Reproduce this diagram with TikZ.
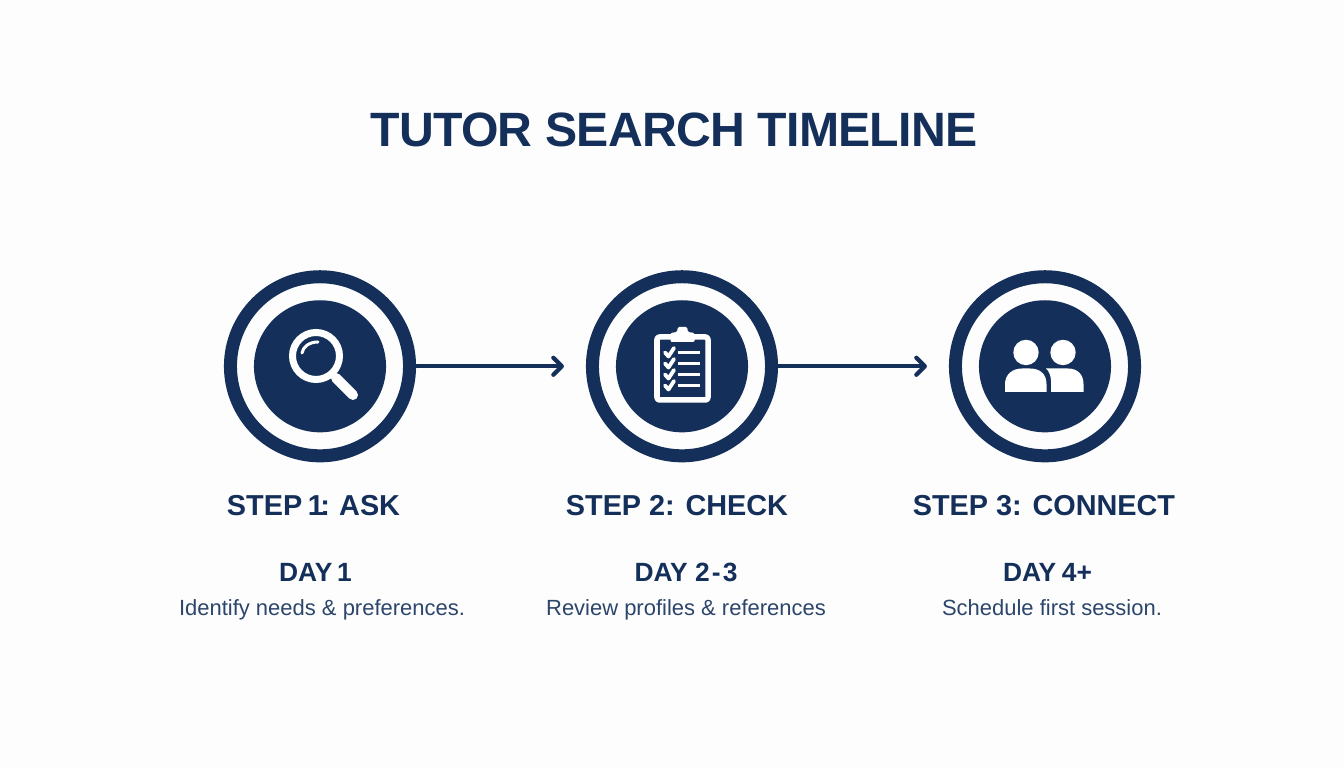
\documentclass[tikz,border=0pt]{standalone}
\usepackage{fontspec}
\setmainfont{Liberation Sans}
\usetikzlibrary{arrows.meta}
\definecolor{navy}{HTML}{14305A}
\definecolor{paper}{HTML}{FDFDFD}
\tikzset{
	ring/.style={circle,draw=navy,line width=.13cm,fill=paper,minimum size=1.79cm,inner sep=0pt},
	disc/.style={circle,fill=navy,minimum size=1.32cm,inner sep=0pt},
	link/.style={draw=navy,line width=.042cm,line cap=round,-{Straight Barb[length=.085cm,width=.17cm,line cap=round,round]},shorten >=.22cm},
	icon/.style={draw=white,line cap=round,line join=round},
	titletext/.style={anchor=base,text=navy,font=\bfseries\fontsize{13.7}{18}\selectfont\addfontfeature{LetterSpace=-1.5}},
	steptext/.style={anchor=base,text=navy,font=\bfseries\fontsize{8.2}{10}\selectfont},
	daytext/.style={anchor=base,text=navy,font=\bfseries\fontsize{7.5}{10}\selectfont},
	notetext/.style={anchor=base,text=navy!90!white,font=\fontsize{6.25}{8}\selectfont}
}
\begin{document}
\begin{tikzpicture}[x=.01cm,y=-.01cm]
	\fill[paper] (0,0) rectangle (1344,768);
	\node[titletext] (title) at (674,146.5) {TUTOR SEARCH TIMELINE};

	\node[ring] (ringA) at (320,366.3) {};
	\node[ring] (ringB) at (682,366.3) {};
	\node[ring] (ringC) at (1045,366.3) {};
	\node[disc] (discA) at (ringA) {};
	\node[disc] (discB) at (ringB) {};
	\node[disc] (discC) at (ringC) {};

	\draw[link] (ringA.east) -- (ringB.west);
	\draw[link] (ringB.east) -- (ringC.west);

	% magnifier
	\draw[icon,line width=.07cm] (316,356) circle (23.5);
	\draw[icon,line width=.1cm] (336,378) -- (353,395);
	\draw[icon,line width=.03cm] (302,353) .. controls (303,347) and (309,342) .. (318,342);

	% clipboard
	\draw[icon,line width=.055cm,rounded corners=.025cm] (672,337) -- (657,337) -- (657,400) -- (708,400) -- (708,337) -- (693,337);
	\fill[white,rounded corners=.012cm] (670.5,342) -- (670.5,333) -- (677,332) -- (678,327) -- (687,327) -- (688,332) -- (694.5,333) -- (694.5,342) -- cycle;
	\foreach \y in {352.5,363.5,374.5,385.5} {
		\draw[icon,line width=.038cm] (665,\y) -- (668.5,\y+4) -- (674,\y-4.5);
		\draw[draw=white,line width=.036cm] (677.5,\y) -- (700,\y);
	}

	% people
	\fill[white] (1026,352.5) circle (12.7);
	\fill[white] (1063,352.5) circle (12.7);
	\fill[white] (1005,392) -- (1005,384) .. controls (1005,374) and (1013,368.5) .. (1022,368.5) -- (1030,368.5) .. controls (1040,368.5) and (1046.5,374) .. (1046.5,384) -- (1046.5,392) -- cycle;
	\fill[white] (1051,392) -- (1051,381) .. controls (1051,376) and (1049,371) .. (1046,368.5) -- (1068,368.5) .. controls (1077,368.5) and (1083.5,374) .. (1083.5,384) -- (1083.5,392) -- cycle;

	\node[steptext] (stepA) at (313.5,515.7) {STEP\kern-.7pt\ 1\kern-1pt: \kern-.4pt ASK};
	\node[steptext] (stepB) at (677,515.7) {STEP 2: CHECK};
	\node[steptext] (stepC) at (1044,515.7) {STEP 3: CONNECT};

	\node[daytext] (dayA) at (315.5,581.7) {DAY\kern-.7pt\ 1};
	\node[daytext] (dayB) at (686,581.7) {DAY 2\kern.6pt-\kern.6pt3};
	\node[daytext] (dayC) at (1047.5,581.7) {DAY\kern-.5pt\ 4+};

	\node[notetext] (noteA) at (322,615.7) {Identify needs \& preferences.};
	\node[notetext] (noteB) at (686,615.7) {Review profiles \& references};
	\node[notetext] (noteC) at (1052,615.7) {Schedule first session.};
\end{tikzpicture}
\end{document}
